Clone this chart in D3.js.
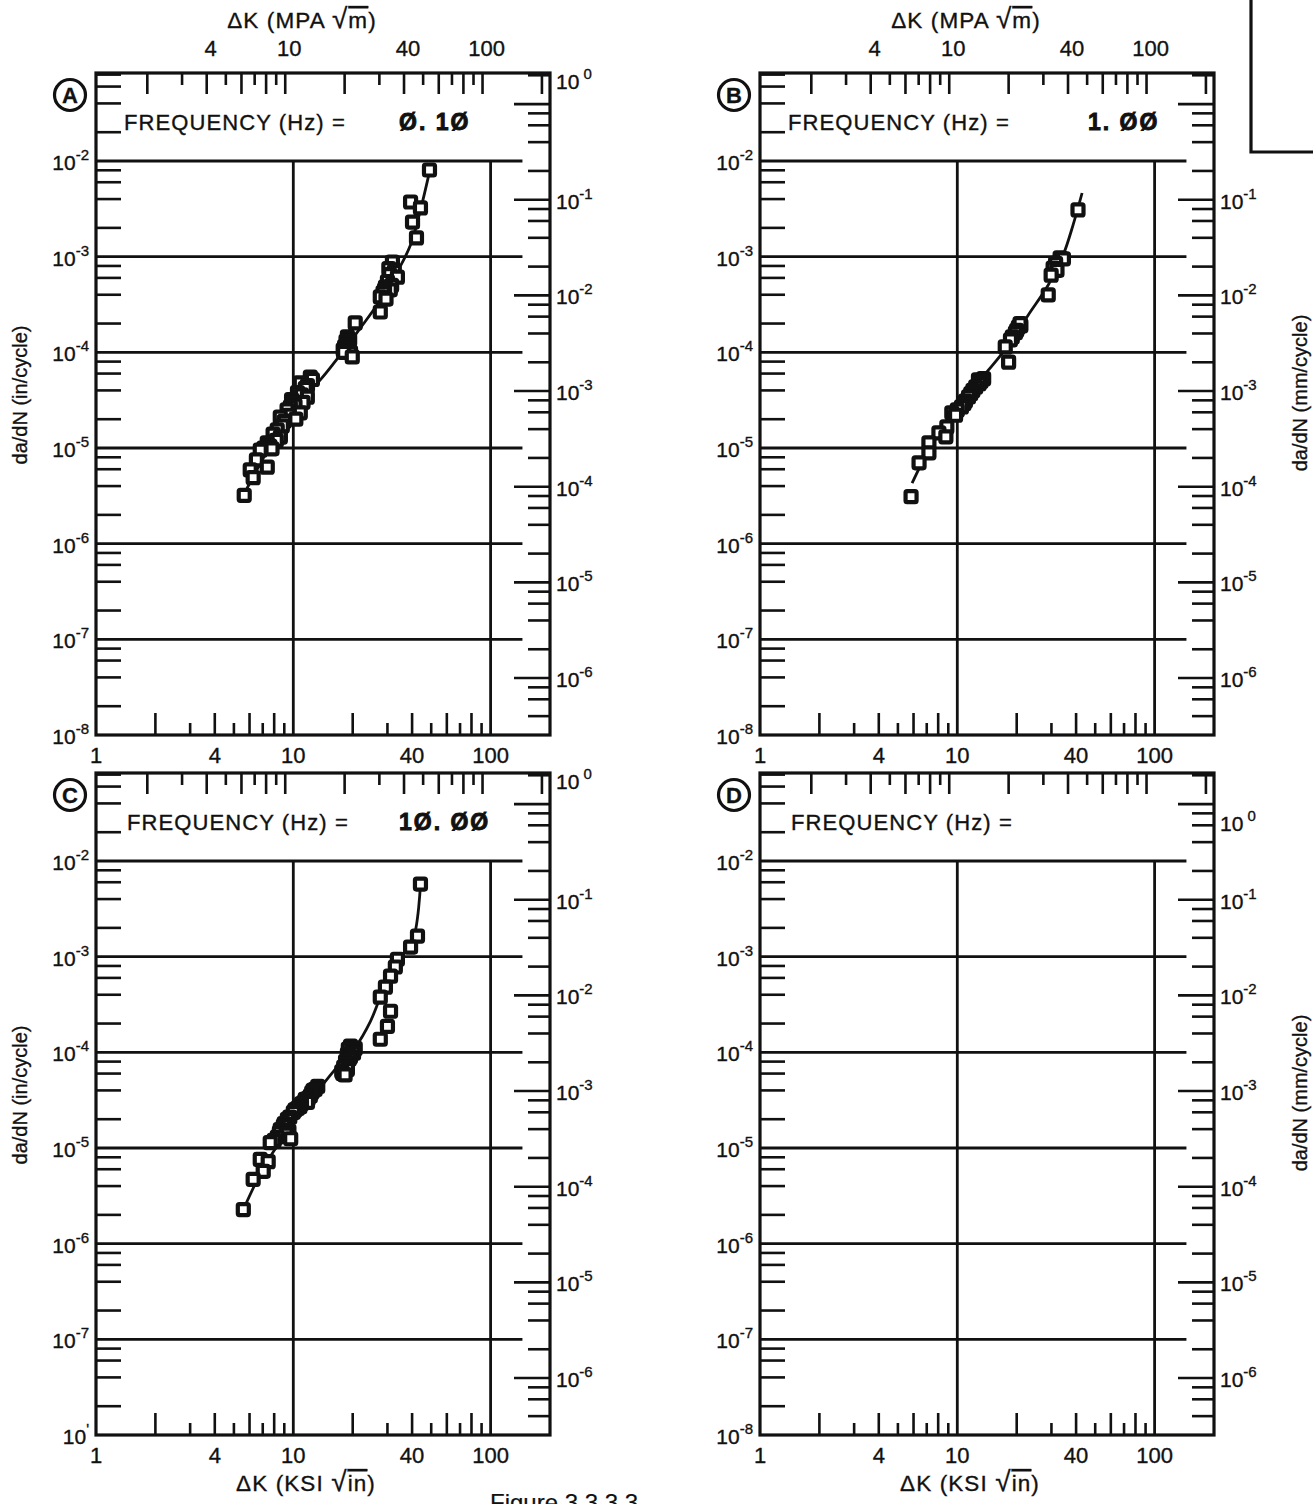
<!DOCTYPE html>
<html><head><meta charset="utf-8">
<script src="https://cdn.jsdelivr.net/npm/d3@7"></script>
<style>
body{margin:0;background:#fff}
svg{display:block}
text{font-family:"Liberation Sans",Arial,sans-serif;fill:#111;stroke:#111;stroke-width:0.35px}
</style>
</head><body>
<svg id="c" width="1313" height="1504"></svg>
<script>
// ---------------- DATA ----------------
const ksiTickLabels = [1, 4, 10, 40, 100];
const mpaTickLabels = [4, 10, 40, 100];
const inDecades = [-2, -3, -4, -5, -6, -7, -8];
const mmDecades = [0, -1, -2, -3, -4, -5, -6];
const panelLetters = ["A", "B", "C", "D"];
const freqValues = ["Ø. 1Ø", "1. ØØ", "1Ø. ØØ", ""];

// [ΔK (ksi√in), da/dN (in/cycle)]
const dataA = [
  [49.0,8.05e-3],[39.3,3.73e-3],[44.1,3.23e-3],[40.2,2.3e-3],[42.1,1.57e-3],
  [31.8,8.8e-4],[30.5,7.5e-4],[32.5,7.0e-4],[30.8,6.5e-4],[33.7,6.1e-4],[30.0,5.5e-4],
  [31.5,5.0e-4],[29.3,4.8e-4],[31.0,4.5e-4],[29.0,4.5e-4],[28.5,4.2e-4],[27.6,3.8e-4],
  [29.5,3.6e-4],[27.6,2.64e-4],
  [20.6,2.03e-4],[18.8,1.45e-4],[19.3,1.35e-4],[18.5,1.3e-4],[19.0,1.2e-4],[18.2,1.15e-4],
  [18.9,1.1e-4],[17.9,1.06e-4],[19.5,1.0e-4],[18.0,1.0e-4],[19.9,8.95e-5],
  [12.2,5.5e-5],[12.5,5.2e-5],[10.85,4.8e-5],[11.8,4.5e-5],[11.5,4.2e-5],[10.5,3.8e-5],
  [11.0,3.6e-5],[11.78,3.4e-5],[9.8,3.2e-5],[10.0,3.0e-5],[11.2,3.0e-5],[10.2,2.8e-5],
  [9.66,2.7e-5],[9.3,2.5e-5],[10.85,2.33e-5],[9.5,2.2e-5],[8.59,2.1e-5],[10.3,2.0e-5],
  [9.0,1.9e-5],[8.8,1.7e-5],[8.29,1.55e-5],[7.9,1.4e-5],[8.6,1.3e-5],[8.2,1.2e-5],
  [7.38,1.13e-5],[7.6,1.05e-5],[7.1,1.0e-5],[7.8,9.8e-6],[6.80,9.5e-6],[6.5,7.5e-6],
  [7.38,6.3e-6],[6.05,5.9e-6],[6.26,4.9e-6],[5.64,3.2e-6]
];
const fitA = [
  [5.58,3.2e-6],[6.96,7.5e-6],[8.80,1.74e-5],[10.85,3.18e-5],[13.7,5.15e-5],[17.3,9.4e-5],
  [21.9,1.8e-4],[27.6,3.5e-4],[34.1,7.3e-4],[39.3,1.33e-3],[44.1,3.08e-3],[49.0,7.7e-3]
];
const dataB = [
  [40.9,3.08e-3],[33.2,9.7e-4],[34.5,9.5e-4],[31.5,8.5e-4],[30.6,7.6e-4],[32.0,7.2e-4],
  [29.9,6.4e-4],[28.9,3.98e-4],
  [20.4,1.84e-4],[21.0,1.9e-4],[20.8,2.0e-4],[20.0,1.7e-4],[19.7,1.6e-4],[19.0,1.45e-4],
  [18.6,1.35e-4],[17.5,1.14e-4],[18.2,7.9e-5],
  [13.6,5.3e-5],[12.8,5.15e-5],[13.2,5.0e-5],[12.9,4.7e-5],[12.4,4.35e-5],[12.0,4.0e-5],
  [11.7,3.7e-5],[11.4,3.42e-5],[11.0,3.1e-5],[10.8,2.9e-5],[10.5,2.69e-5],[10.0,2.5e-5],
  [9.38,2.33e-5],[9.8,2.2e-5],[8.85,1.66e-5],[8.07,1.44e-5],[8.75,1.31e-5],[7.18,1.13e-5],
  [7.18,8.9e-6],[6.40,7.0e-6],[5.83,3.1e-6]
];
const fitB = [
  [5.90,4.3e-6],[7.18,9.55e-6],[10.2,2.82e-5],[14.4,6.55e-5],[18.2,1.19e-4],[22.9,2.46e-4],
  [28.9,5.06e-4],[34.4,1.04e-3],[38.6,2.14e-3],[42.9,4.63e-3]
];
const dataC = [
  [44.1,5.74e-3],[42.6,1.64e-3],[39.3,1.26e-3],[33.7,9.4e-4],[32.9,7.8e-4],[31.1,6.25e-4],
  [29.3,4.8e-4],[27.6,3.77e-4],[31.1,2.69e-4],[30.0,1.87e-4],[27.6,1.37e-4],
  [19.5,1.16e-4],[20.6,1.1e-4],[19.0,1.08e-4],[20.0,1.05e-4],[19.8,1.0e-4],[20.2,9.8e-5],
  [18.8,9.5e-5],[19.5,9.0e-5],[19.2,8.5e-5],[18.4,8.05e-5],[18.5,7.5e-5],[18.0,7.0e-5],
  [18.8,6.6e-5],[17.6,6.3e-5],[17.8,6.0e-5],[18.3,5.8e-5],
  [13.3,4.4e-5],[12.9,4.1e-5],[12.6,4.0e-5],[12.4,3.8e-5],[12.2,3.5e-5],[11.9,3.3e-5],
  [11.5,3.22e-5],[11.3,3.0e-5],[11.8,3.0e-5],[11.0,2.9e-5],[10.8,2.7e-5],[10.5,2.6e-5],
  [10.2,2.5e-5],[10.0,2.36e-5],[9.6,2.1e-5],[9.33,1.99e-5],[9.0,1.8e-5],[8.9,1.7e-5],
  [8.59,1.56e-5],[9.5,1.5e-5],[8.5,1.45e-5],[9.2,1.4e-5],[8.3,1.3e-5],[9.7,1.25e-5],
  [8.0,1.2e-5],[7.64,1.14e-5],[6.80,7.6e-6],[7.46,7.2e-6],[7.04,5.7e-6],
  [6.26,4.7e-6],[5.58,2.27e-6]
];
const fitC = [
  [5.58,2.27e-6],[7.21,6.7e-6],[9.66,1.64e-5],[12.9,3.63e-5],[16.3,6.64e-5],[20.6,1.13e-4],
  [24.6,2.11e-4],[28.6,4.57e-4],[32.9,8.35e-4],[40.2,1.45e-3],[44.1,5.74e-3]
];
const dataD = [];
const fitD = [];

// ---------------- LAYOUT ----------------
const W = 454, H = 662;
const xDomain = [1, 200];
const yDomain = [1e-8, Math.pow(10, -1.08)];
const MPA_PER_KSI = 1.0988;
const MM_PER_IN = 25.4;

const panels = [
  {i:0, left:96,  top:73,  data:dataA, fit:fitA, topLbl:true,  botLbl:true, botTitle:false, leftTitle:true,  rightTitle:false, mm0:true,  mm0dy:-24},
  {i:1, left:760, top:73,  data:dataB, fit:fitB, topLbl:true,  botLbl:true, botTitle:false, leftTitle:false, rightTitle:true,  mm0:false, mm0dy:0},
  {i:2, left:96,  top:773, data:dataC, fit:fitC, topLbl:false, botLbl:true, botTitle:true,  leftTitle:true,  rightTitle:false, mm0:true,  mm0dy:-24},
  {i:3, left:760, top:773, data:dataD, fit:fitD, topLbl:false, botLbl:true, botTitle:true,  leftTitle:false, rightTitle:true,  mm0:true,  mm0dy:18}
];

const svg = d3.select("#c");
const INK = "#111";

function powLabel(g, x, y, exp, anchor) {
  const t = g.append("text").attr("x", x).attr("y", y)
    .attr("text-anchor", anchor).attr("font-size", 21);
  t.append("tspan").text("10");
  t.append("tspan").attr("font-size", 15).attr("dy", -10).text(exp === 0 ? " 0" : String(exp));
  return t;
}

panels.forEach(p => {
  const g = svg.append("g");
  const x = d3.scaleLog().domain(xDomain).range([p.left, p.left + W]);
  const y = d3.scaleLog().domain(yDomain).range([p.top + H, p.top]);
  const x0 = p.left, x1 = p.left + W, y0 = p.top, y1 = p.top + H;

  // grid
  const gridEnd = x(145);
  inDecades.filter(e => e > -8).forEach(e => {
    g.append("line").attr("x1", x0).attr("x2", gridEnd)
      .attr("y1", y(Math.pow(10, e))).attr("y2", y(Math.pow(10, e)))
      .attr("stroke", INK).attr("stroke-width", 2.8);
  });
  [10, 100].forEach(v => {
    g.append("line").attr("x1", x(v)).attr("x2", x(v))
      .attr("y1", y(1e-2)).attr("y2", y1)
      .attr("stroke", INK).attr("stroke-width", 2.8);
  });

  // left minor ticks (in/cycle)
  for (let e = -9; e <= -1; e++) {
    [2, 4, 6, 8].forEach(m => {
      const v = m * Math.pow(10, e);
      if (v > yDomain[0] && v < yDomain[1]) {
        g.append("line").attr("x1", x0).attr("x2", x0 + 25)
          .attr("y1", y(v)).attr("y2", y(v)).attr("stroke", INK).attr("stroke-width", 2.6);
      }
    });
  }
  // right ticks (mm/cycle)
  for (let e = -7; e <= 0; e++) {
    [1, 2, 4, 6, 8].forEach(m => {
      const v = m * Math.pow(10, e) / MM_PER_IN;
      if (v > yDomain[0] && v < yDomain[1]) {
        const len = m === 1 ? 36 : 22;
        g.append("line").attr("x1", x1).attr("x2", x1 - len)
          .attr("y1", y(v)).attr("y2", y(v)).attr("stroke", INK).attr("stroke-width", 2.6);
      }
    });
  }
  // top ticks (MPa√m)
  for (let e = 0; e <= 2; e++) {
    for (let m = 1; m <= 9; m++) {
      const v = m * Math.pow(10, e) / MPA_PER_KSI;
      if (v > xDomain[0] && v < xDomain[1]) {
        const len = (m === 1 || m % 2 === 0) ? 21 : 12;
        g.append("line").attr("x1", x(v)).attr("x2", x(v))
          .attr("y1", y0).attr("y2", y0 + len).attr("stroke", INK).attr("stroke-width", 2.6);
      }
    }
  }
  // bottom ticks (ksi√in)
  for (let e = 0; e <= 1; e++) {
    for (let m = 2; m <= 9; m++) {
      const v = m * Math.pow(10, e);
      const len = m % 2 === 0 ? 22 : 12;
      g.append("line").attr("x1", x(v)).attr("x2", x(v))
        .attr("y1", y1).attr("y2", y1 - len).attr("stroke", INK).attr("stroke-width", 2.6);
    }
  }

  // frame
  g.append("rect").attr("x", x0).attr("y", y0).attr("width", W).attr("height", H)
    .attr("fill", "none").attr("stroke", INK).attr("stroke-width", 3.2);

  // left tick labels
  inDecades.forEach(e => {
    const lbl = powLabel(g, x0 - 7, y(Math.pow(10, e)) + 9, e, "end");
    if (p.i === 2 && e === -8) { lbl.select("tspan:last-child").text("'"); }
  });
  // right tick labels
  mmDecades.forEach(e => {
    if (e === 0 && !p.mm0) return;
    const yy = y(Math.pow(10, e) / MM_PER_IN) + 9 + (e === 0 ? p.mm0dy : 0);
    powLabel(g, x1 + 6, yy, e, "start");
  });

  // bottom labels
  if (p.botLbl) {
    ksiTickLabels.forEach(v => {
      g.append("text").attr("x", x(v)).attr("y", y1 + 28).attr("text-anchor", "middle")
        .attr("font-size", 22).text(v);
    });
  }
  // top labels (MPa)
  if (p.topLbl) {
    mpaTickLabels.forEach(v => {
      g.append("text").attr("x", x(v / MPA_PER_KSI) + 4).attr("y", y0 - 17)
        .attr("text-anchor", "middle").attr("font-size", 22).text(v);
    });
    const t = g.append("text").attr("x", x0 + 206).attr("y", y0 - 45)
      .attr("text-anchor", "middle").attr("font-size", 22.5).attr("letter-spacing", 1.1);
    t.append("tspan").text("ΔK (MPA  ");
    t.append("tspan").attr("font-size", 28).text("√");
    t.append("tspan").style("text-decoration", "overline").text("m");
    t.append("tspan").text(")");
  }
  if (p.botTitle) {
    const t = g.append("text").attr("x", x0 + 210).attr("y", y1 + 56)
      .attr("text-anchor", "middle").attr("font-size", 22.5).attr("letter-spacing", 1.1);
    t.append("tspan").text("ΔK (KSI ");
    t.append("tspan").attr("font-size", 28).text("√");
    t.append("tspan").style("text-decoration", "overline").text("in");
    t.append("tspan").text(")");
  }
  if (p.leftTitle) {
    g.append("text").attr("transform", `translate(${x0 - 69},${y(1e-5) - 53}) rotate(-90)`)
      .attr("text-anchor", "middle").attr("font-size", 20).text("da/dN (in/cycle)");
  }
  if (p.rightTitle) {
    g.append("text").attr("transform", `translate(${x1 + 93},${y(1e-5) - 55}) rotate(-90)`)
      .attr("text-anchor", "middle").attr("font-size", 20).text("da/dN (mm/cycle)");
  }

  // panel letter
  const cx = x0 - 26, cy = y0 + 22;
  g.append("circle").attr("cx", cx).attr("cy", cy).attr("r", 15.5)
    .attr("fill", "none").attr("stroke", INK).attr("stroke-width", 3.2);
  g.append("text").attr("x", cx).attr("y", cy + 8).attr("text-anchor", "middle")
    .attr("font-size", 22).attr("font-weight", "bold").text(panelLetters[p.i]);

  // frequency text
  g.append("text").attr("x", x0 + 28 + (p.i >= 2 ? 3 : 0)).attr("y", y0 + 57)
    .attr("font-size", 22).attr("letter-spacing", 1.1).text("FREQUENCY (Hz) =");
  if (freqValues[p.i]) {
    g.append("text").attr("x", p.i === 1 ? x0 + 328 : x0 + 303).attr("y", y0 + 57)
      .attr("font-family", "DejaVu Sans Mono").attr("font-weight", "bold")
      .attr("font-size", 23).attr("letter-spacing", 2).style("stroke-width", "0.9px")
      .text(freqValues[p.i]);
  }

  // fit curve
  if (p.fit.length) {
    g.append("path").datum(p.fit)
      .attr("d", d3.line().x(d => x(d[0])).y(d => y(d[1])).curve(d3.curveCatmullRom.alpha(0.5)))
      .attr("fill", "none").attr("stroke", INK).attr("stroke-width", 2.8);
  }
  // markers
  const s = 11;
  g.selectAll("rect.pt").data(p.data).enter().append("rect").attr("class", "pt")
    .attr("x", d => x(d[0]) - s / 2).attr("y", d => y(d[1]) - s / 2)
    .attr("width", s).attr("height", s).attr("rx", 1.5)
    .attr("fill", "#fff").attr("stroke", INK).attr("stroke-width", 4.2);
});

// top-right box
svg.append("path").attr("d", "M1251,0 V152 H1313").attr("fill", "none")
  .attr("stroke", INK).attr("stroke-width", 3.2);

// partial caption at bottom (cut by the page edge as in the scan)
svg.append("text").attr("x", 490).attr("y", 1511).attr("font-family", "Liberation Mono")
  .attr("font-size", 24).style("stroke-width", "0.2px").text("Figure 3.3.3.3");
</script>
</body></html>
